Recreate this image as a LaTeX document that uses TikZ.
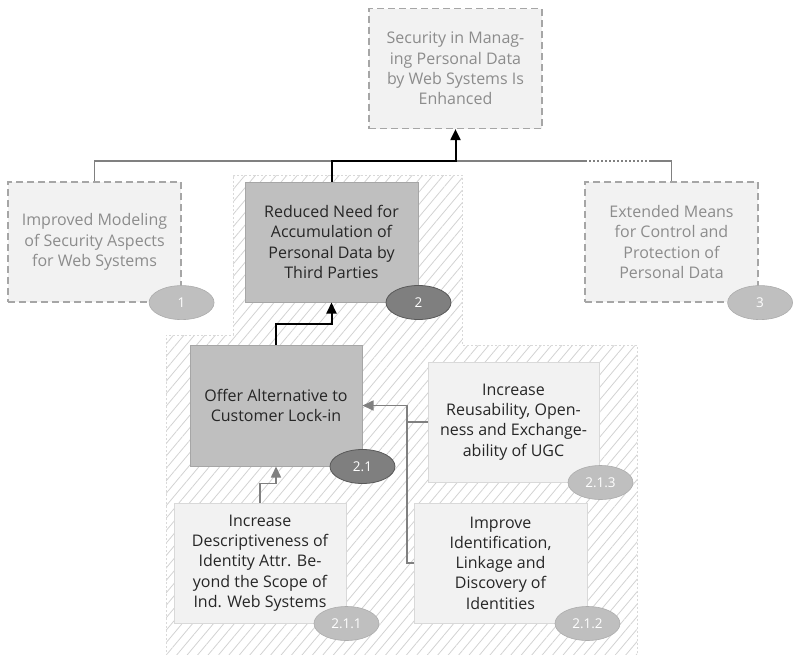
\documentclass[tikz,border=0pt]{standalone}
\usepackage{fontspec}
\setmainfont{Open Sans}
\usetikzlibrary{arrows.meta,patterns.meta,shapes.geometric}
\definecolor{dimfill}{HTML}{F2F2F2}
\definecolor{dimdraw}{HTML}{A6A6A6}
\definecolor{dimtext}{HTML}{8C8C8C}
\definecolor{darkfill}{HTML}{BFBFBF}
\definecolor{lightdraw}{HTML}{D9D9D9}
\definecolor{ovaldark}{HTML}{7F7F7F}
\definecolor{ovaldarkdraw}{HTML}{595959}
\definecolor{conngray}{HTML}{808080}
\definecolor{hatchcol}{HTML}{D2D2D2}
\definecolor{txt}{HTML}{262626}
\tikzset{
  box/.style={rectangle, minimum width=173pt, minimum height=120pt, inner sep=0pt,
    align=center, font=\fontsize{16}{20.3}\selectfont},
  dimbox/.style={box, fill=dimfill, draw=dimdraw, line width=1.2pt, dash pattern=on 7pt off 4pt, text=dimtext},
  darkbox/.style={box, fill=darkfill, draw=dimdraw, line width=1pt, text=txt},
  lightbox/.style={box, fill=dimfill, draw=lightdraw, line width=1pt, text=txt},
  oval/.style={ellipse, minimum width=65pt, minimum height=34pt, inner sep=0pt, text=white,
    font=\fontsize{13.5}{15}\selectfont},
  ovallight/.style={oval, fill=darkfill, draw=darkfill!90!black, line width=0.6pt},
  ovaldk/.style={oval, fill=ovaldark, draw=ovaldarkdraw, line width=0.8pt},
  grayconn/.style={draw=conngray, line width=1.6pt},
  blackconn/.style={draw=black, line width=2pt},
  blackarrow/.style={blackconn, -{Triangle[length=11pt,width=10pt]}},
  grayarrow/.style={grayconn, -{Triangle[length=11pt,width=10pt]}},
}
\begin{document}
\begin{tikzpicture}[x=1pt,y=-1pt]
\useasboundingbox (0,0) rectangle (793,654);
% hatched region
\path[pattern={Lines[angle=50,distance=8pt,line width=0.8pt]}, pattern color=hatchcol]
  (233,175) -- (462,175) -- (462,345) -- (637,345) -- (637,660) -- (166,660) -- (166,335) -- (233,335) -- cycle;
\draw[draw=lightdraw, line width=1pt, dash pattern=on 2pt off 2pt]
  (166,660) -- (166,335) -- (233,335) -- (233,175) -- (462,175) -- (462,345) -- (637,345) -- (637,660);
% nodes
\node[dimbox] (top) at (455.5,68.5) {Security in Manag-\\ing Personal Data\\by Web Systems Is\\Enhanced};
\node[dimbox] (n1) at (94.5,242) {Improved Modeling\\of Security Aspects\\for Web Systems};
\node[darkbox] (n2) at (331.5,242) {Reduced Need for\\Accumulation of\\Personal Data by\\Third Parties};
\node[dimbox] (n3) at (671.5,242) {Extended Means\\for Control and\\Protection of\\Personal Data};
\node[darkbox, minimum width=172pt, minimum height=121pt] (n21) at (276,405.5) {Offer Alternative to\\Customer Lock-in};
\node[lightbox, minimum width=171pt] (n213) at (513.5,422) {Increase\\Reusability, Open-\\ness and Exchange-\\ability of UGC};
\node[lightbox, minimum width=172pt] (n211) at (260,563) {Increase\\Descriptiveness of\\Identity Attr. Be-\\yond the Scope of\\Ind. Web Systems};
\node[lightbox] (n212) at (500.5,563) {Improve\\Identification,\\Linkage and\\Discovery of\\Identities};
% connectors
\coordinate (h1) at (585,161);
\coordinate (h2) at (650,161);
\coordinate (hb) at (0,161);
\coordinate (j) at (407,405.5);
\draw[grayconn] (n1.north) |- (h1);
\draw[grayconn, dash pattern=on 2pt off 2pt] (h1) -- (h2);
\draw[grayconn] (h2) -| (n3.north);
\draw[blackarrow] (n2.north) |- (hb -| top.south) -- (top.south);
\draw[blackarrow] (n21.north) -- ++(0,-21) -| (n2.south);
\draw[grayarrow] (n211.north) -- ++(0,-19) -| (n21.south);
\draw[grayconn] (n212.west) -| (j);
\draw[grayarrow] (n213.west) -| (j) -- (n21.east);
% ovals
\node[ovallight] at (n1.south east) {1};
\node[ovaldk] at (n2.south east) {2};
\node[ovallight] at ([xshift=1.5pt]n3.south east) {3};
\node[ovaldk] at (n21.south east) {2.1};
\node[ovallight] at ([xshift=1pt]n213.south east) {2.1.3};
\node[ovallight] at (n211.south east) {2.1.1};
\node[ovallight] at (n212.south east) {2.1.2};
\end{tikzpicture}
\end{document}
